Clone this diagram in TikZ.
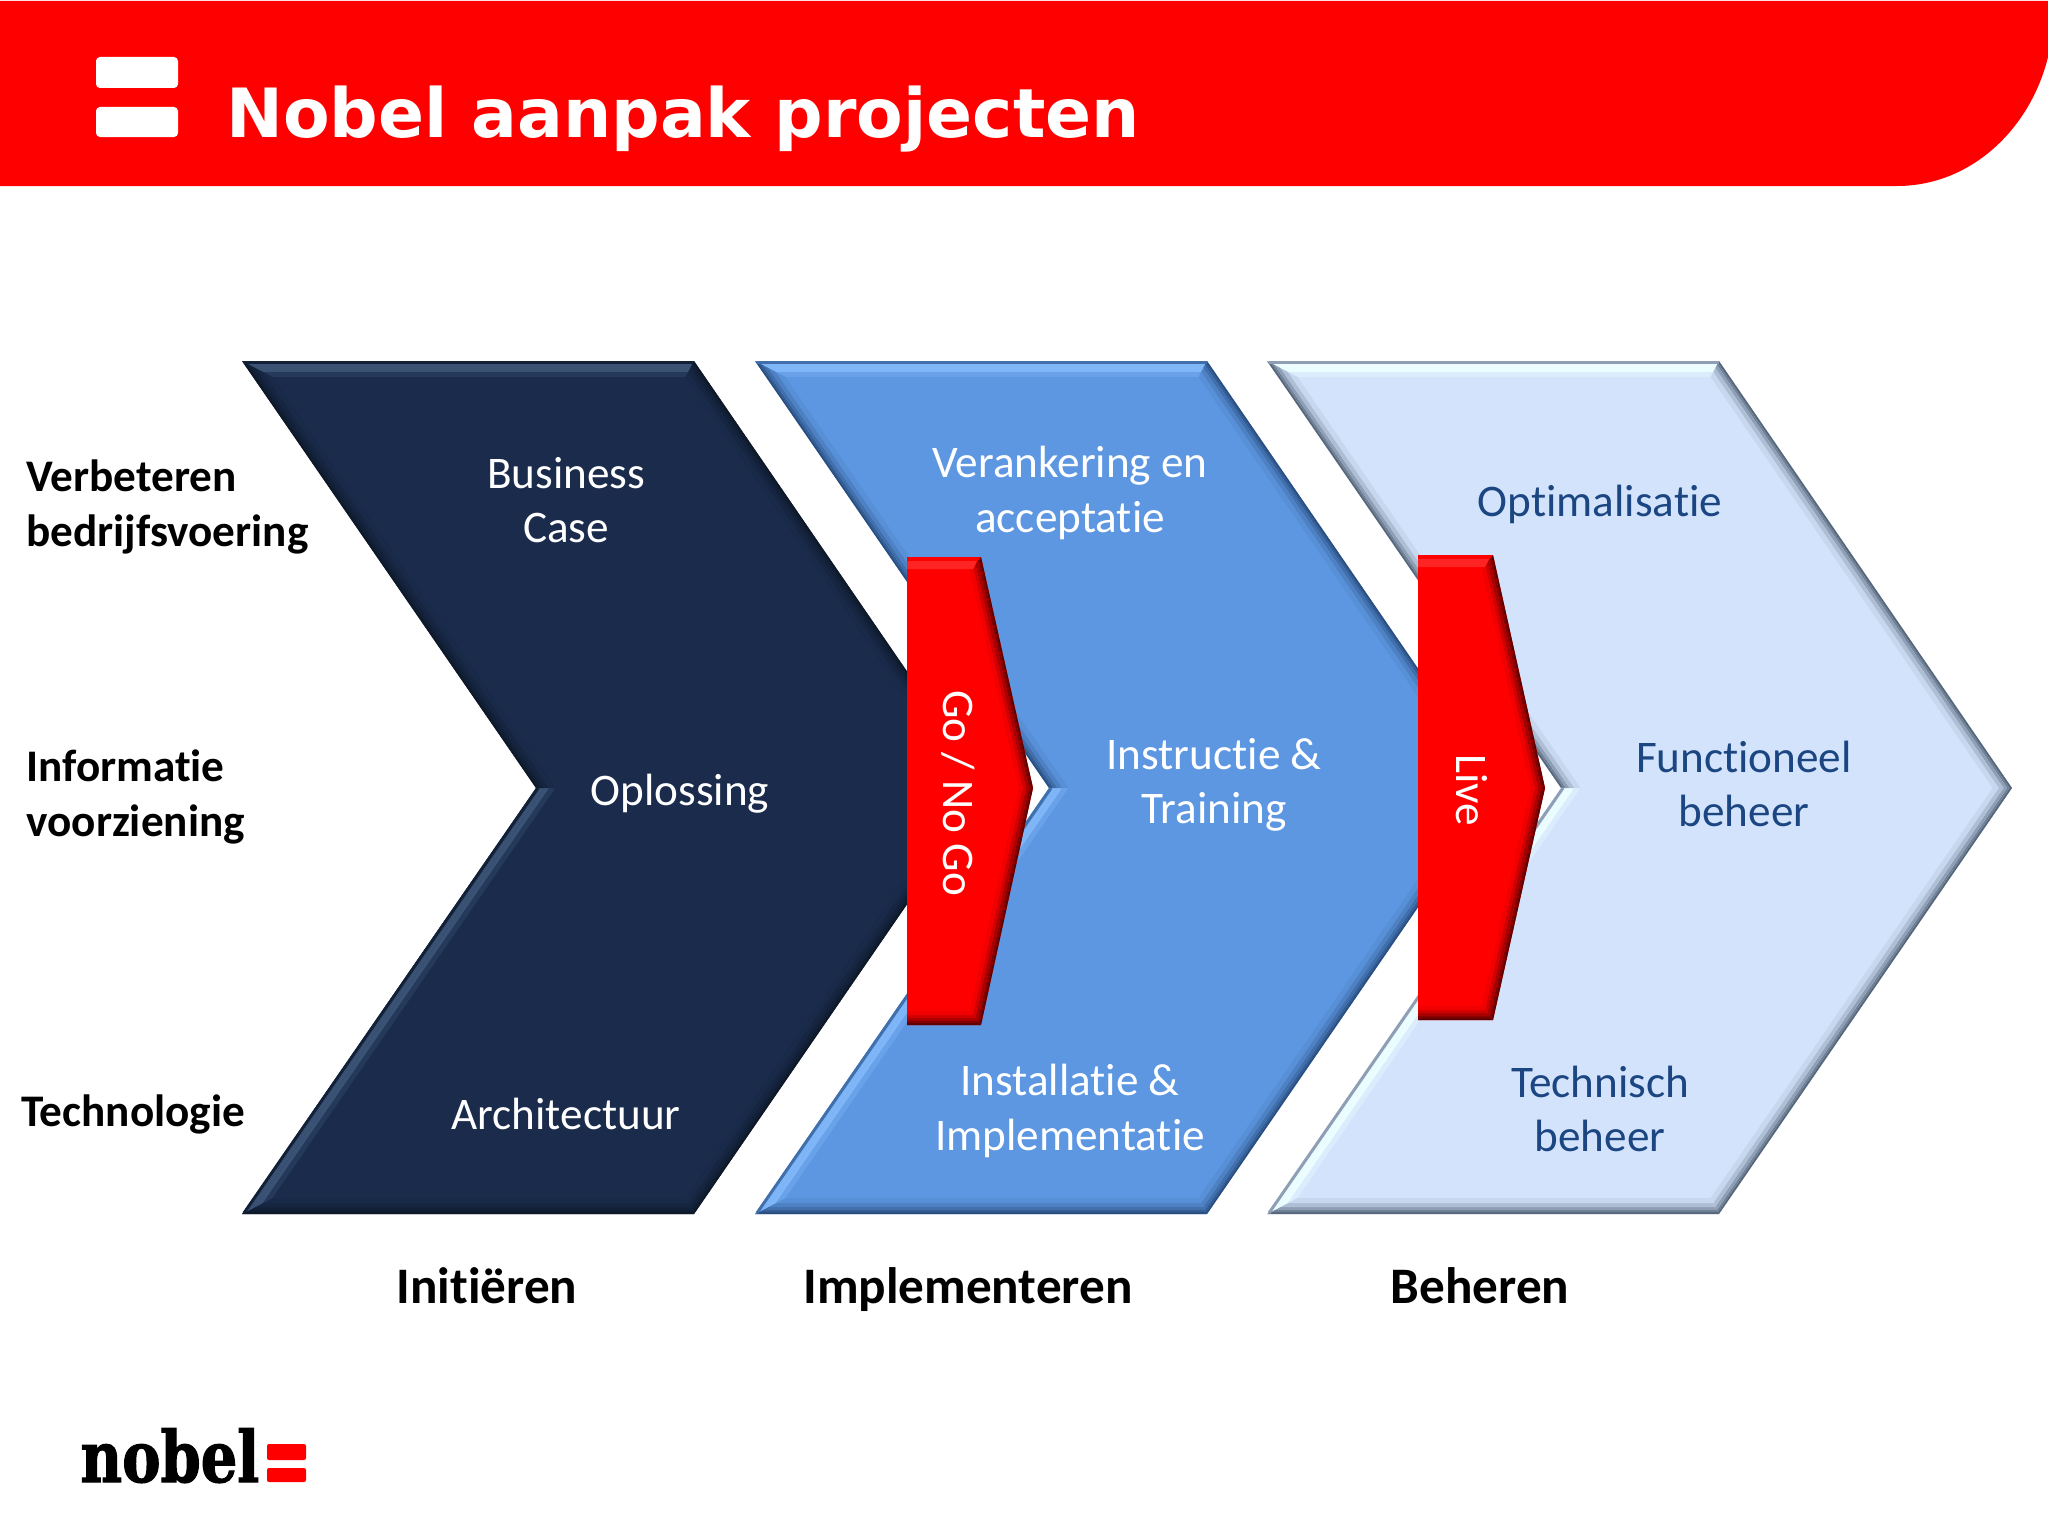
\documentclass[tikz,border=0pt]{standalone}
\usepackage{fontspec}
\setmainfont[Ligatures=NoCommon]{Carlito}
\newfontfamily\titlefont{DejaVu Sans}
\newfontfamily\logofont[FakeStretch=0.81, FakeBold=1.6]{DejaVu Serif}
\usepackage{tikz}
\definecolor{nobelred}{HTML}{FF0000}
\definecolor{navymain}{HTML}{1A2B4C}
\definecolor{navydark}{HTML}{0E1828}
\definecolor{navylite}{HTML}{3A5274}
\definecolor{bluemain}{HTML}{5D97E1}
\definecolor{bluedark}{HTML}{2A4E80}
\definecolor{bluelite}{HTML}{7FB6F8}
\definecolor{palemain}{HTML}{D3E3FB}
\definecolor{paledark}{HTML}{56677C}
\definecolor{palelite}{HTML}{EBFDFF}
\definecolor{paletext}{HTML}{1B4682}
\tikzset{
chevlabel/.style = {align=center, inner sep=0pt, font=\fontsize{22.6}{27.3}\selectfont},
navytext/.style = {chevlabel, text=white},
paletext/.style = {chevlabel, text=paletext},
gatelabel/.style = {chevlabel, text=white, rotate=-90},
sidelabel/.style = {align=left, inner sep=0pt, anchor=west, font=\fontsize{22.6}{27.3}\selectfont\bfseries},
phaselabel/.style = {inner sep=0pt, anchor=base, font=\fontsize{25.6}{30}\selectfont\bfseries},
}
% left edge, fill, dark side, light side
\newcommand{\chevronshape}[4]{
  \def\cl{#1}
  \fill[#2] (\cl,361) -- (\cl+452,361) -- (\cl+745,788) -- (\cl+452,1214) -- (\cl,1214) -- (\cl+294,788) -- cycle;
  \foreach \da/\db/\pd/\pl in {0/2/100/45, 2/4/80/100, 4/7/55/100, 7/11/30/100, 11/16/10/35} {
    % top
    \fill[#4!\pl!#2] (\cl+1.903*\da,361+\da) -- (\cl+452-.525*\da,361+\da) -- (\cl+452-.525*\db,361+\db) -- (\cl+1.903*\db,361+\db) -- cycle;
    % upper right
    \fill[#3!\pd!#2] (\cl+452-.525*\da,361+\da) -- (\cl+745-1.214*\da,788) -- (\cl+745-1.214*\db,788) -- (\cl+452-.525*\db,361+\db) -- cycle;
    % lower right
    \fill[#3!\pd!#2] (\cl+452-.525*\da,1214-\da) -- (\cl+745-1.214*\da,788) -- (\cl+745-1.214*\db,788) -- (\cl+452-.525*\db,1214-\db) -- cycle;
    % bottom
    \fill[#3!\pd!#2] (\cl+1.903*\da,1214-\da) -- (\cl+452-.525*\da,1214-\da) -- (\cl+452-.525*\db,1214-\db) -- (\cl+1.903*\db,1214-\db) -- cycle;
    % lower left
    \fill[#4!\pl!#2] (\cl+1.903*\da,1214-\da) -- (\cl+294+1.214*\da,788) -- (\cl+294+1.214*\db,788) -- (\cl+1.903*\db,1214-\db) -- cycle;
    % upper left
    \fill[#3!\pd!#2] (\cl+1.903*\da,361+\da) -- (\cl+294+1.214*\da,788) -- (\cl+294+1.214*\db,788) -- (\cl+1.903*\db,361+\db) -- cycle;
  }
  % rim on the light sides
  \draw[#3!55!#2, line width=1.5pt] (\cl+2,362.5) -- (\cl+452,362.5);
  \draw[#3!55!#2, line width=1.5pt] (\cl+2,1213) -- (\cl+296,788);
}
% left, shoulder, tip, top, bottom
\newcommand{\gateshape}[5]{
  \fill[nobelred] (#1,#4) -- (#2,#4) -- (#3,788) -- (#2,#5) -- (#1,#5) -- cycle;
  \foreach \da/\db/\pd in {0/2/62, 2/4/50, 4/7/34, 7/10/18, 10/14/6} {
    \fill[black!\pd!nobelred] (#2-.8*\da,#4+\da) -- (#3-1.025*\da,788) -- (#3-1.025*\db,788) -- (#2-.8*\db,#4+\db) -- cycle;
    \fill[black!\pd!nobelred] (#2-.8*\da,#5-\da) -- (#3-1.025*\da,788) -- (#3-1.025*\db,788) -- (#2-.8*\db,#5-\db) -- cycle;
    \fill[black!\pd!nobelred] (#1,#5-\da) -- (#2-.8*\da,#5-\da) -- (#2-.8*\db,#5-\db) -- (#1,#5-\db) -- cycle;
  }
  \fill[white!14!nobelred] (#1,#4+4) -- (#2-4,#4+4) -- (#2-8,#4+12) -- (#1,#4+12) -- cycle;
}
\begin{document}
\begin{tikzpicture}[x=0.5pt, y=-0.5pt]
    \useasboundingbox (0,0) rectangle (2048,1536);
    \fill[white] (0,0) rectangle (2048,1536);
    % banner
    \fill[nobelred] (0,1) -- (2048,1) -- (2048,57) .. controls (2030,130) and (1970,186) .. (1897,186) -- (0,186) -- cycle;
    \fill[white, rounded corners=2] (96,57) rectangle (178,88);
    \fill[white, rounded corners=2] (96,107) rectangle (178,137);
    \node [anchor=base west, inner sep=0pt, text=white, font=\fontsize{33.95}{40}\selectfont\titlefont\bfseries] (title) at (226,137) {Nobel aanpak projecten};
    % chevrons
    \chevronshape{242}{navymain}{navydark}{navylite}
    \chevronshape{755}{bluemain}{bluedark}{bluelite}
    \chevronshape{1267}{palemain}{paledark}{palelite}
    \gateshape{907}{981}{1033}{557}{1025}
    \gateshape{1418}{1493}{1545}{555}{1020}
    % texts
    \node [navytext] (business) at (566,500) {Business\\Case};
    \node [navytext] (oplossing) at (680,794) {Oplossing};
    \node [navytext] (architectuur) at (566,1114) {Architectuur};
    \node [navytext] (verankering) at (1070,493) {Verankering en\\acceptatie};
    \node [navytext] (instructie) at (1214,785) {Instructie \&\\Training};
    \node [navytext] (installatie) at (1070,1111) {Installatie \&\\Implementatie};
    \node [paletext] (optimalisatie) at (1600,504) {Optimalisatie};
    \node [paletext] (functioneel) at (1744,784) {Functioneel\\beheer};
    \node [paletext] (technisch) at (1600,1109) {Technisch\\beheer};
    \node [gatelabel] (gonogo) at (958,793) {Go / No Go};
    \node [gatelabel] (live) at (1472,790) {Live};
    \node [sidelabel] (verbeteren) at (26,507) {Verbeteren\\bedrijfsvoering};
    \node [sidelabel] (informatie) at (26,797) {Informatie\\voorziening};
    \node [sidelabel] (technologie) at (21,1114) {Technologie};
    \node [phaselabel] (initieren) at (487,1303) {Initiëren};
    \node [phaselabel] (implementeren) at (968,1303) {Implementeren};
    \node [phaselabel] (beheren) at (1480,1303) {Beheren};
    % logo
    \node [anchor=base west, inner sep=0pt, text=black, font=\fontsize{35.5}{40}\selectfont\logofont\bfseries] (logo) at (80,1482) {nobel};
    \fill[nobelred, rounded corners=1] (267,1444) rectangle (306,1460);
    \fill[nobelred, rounded corners=1] (267,1468) rectangle (306,1482);
\end{tikzpicture}
\end{document}
